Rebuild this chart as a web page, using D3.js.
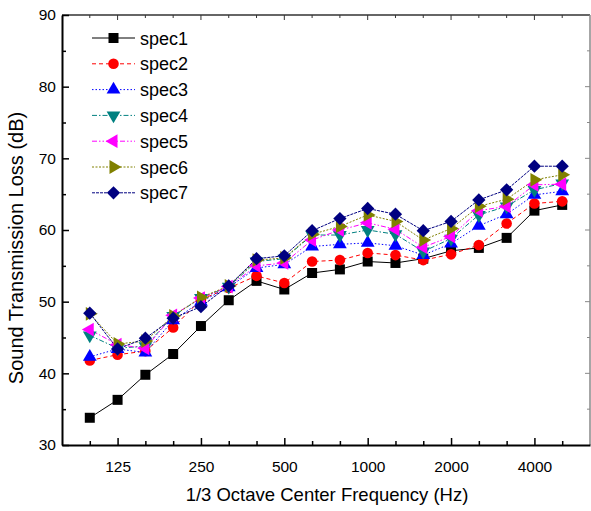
<!DOCTYPE html>
<head>
  <meta charset="utf-8">
  <script src="https://d3js.org/d3.v7.min.js"></script>
  <style>
    body { margin: 0; background: #fff; }
    svg { display: block; font-family: "Liberation Sans", Arial, sans-serif; }
  </style>
</head>
<body>
  <svg width="591" height="511"></svg>
  <script>
    // data
    var freqs = [100, 125, 160, 200, 250, 315, 400, 500, 630, 800, 1000, 1250, 1600, 2000, 2500, 3150, 4000, 5000];
    var tickLabels = ["125", "250", "500", "1000", "2000", "4000"];
    var yTicks = [30, 40, 50, 60, 70, 80, 90];
    var names = ["spec1", "spec2", "spec3", "spec4", "spec5", "spec6", "spec7"];
    var spec1 = [33.8, 36.3, 39.8, 42.7, 46.6, 50.2, 52.9, 51.7, 54.0, 54.5, 55.6, 55.4, 56.0, 57.1, 57.5, 58.9, 62.7, 63.5];
    var spec2 = [41.8, 42.6, 43.1, 46.4, 50.3, 51.9, 53.6, 52.6, 55.6, 55.8, 56.8, 56.5, 55.8, 56.6, 57.9, 60.9, 63.7, 64.0];
    var spec3 = [42.3, 43.4, 42.9, 47.4, 50.0, 52.0, 54.7, 55.2, 57.7, 58.0, 58.2, 57.8, 56.5, 58.1, 60.6, 62.2, 64.9, 65.4];
    var spec4 = [45.3, 43.5, 43.8, 48.0, 50.5, 52.1, 55.6, 56.0, 59.3, 59.3, 60.0, 59.4, 57.0, 58.8, 62.1, 63.3, 65.6, 66.5];
    var spec5 = [46.1, 44.0, 43.5, 48.1, 50.5, 52.1, 55.0, 55.4, 58.6, 60.0, 61.0, 60.1, 57.6, 59.1, 62.7, 63.3, 66.3, 66.4];
    var spec6 = [48.3, 44.1, 44.5, 48.0, 50.6, 52.2, 55.8, 56.1, 59.4, 60.5, 62.1, 61.2, 58.6, 60.2, 63.3, 64.3, 67.0, 67.7];
    var spec7 = [48.4, 43.4, 44.9, 47.7, 49.3, 52.2, 56.0, 56.4, 59.9, 61.6, 63.0, 62.2, 59.9, 61.2, 64.2, 65.6, 68.9, 68.9];
    var series = [spec1, spec2, spec3, spec4, spec5, spec6, spec7];

    // styles
    var colors = ["#000000", "#ff0000", "#0000ff", "#008080", "#ff00ff", "#808000", "#000080"];
    var dashes = [null, "4,3", "1.5,2", "5,2,1.5,2", "5,2,1.5,2,1.5,2", "2,1.5", "3,1"];
    var shapes = [
      { type: d3.symbolSquare, size: 100, rot: 0 },
      { type: d3.symbolCircle, size: 88, rot: 0 },
      { type: d3.symbolTriangle, size: 82, rot: 0 },
      { type: d3.symbolTriangle, size: 82, rot: 180 },
      { type: d3.symbolTriangle, size: 82, rot: -90 },
      { type: d3.symbolTriangle, size: 82, rot: 90 },
      { type: d3.symbolSquare, size: 88, rot: 45 }
    ];

    var margin = { top: 15, right: 1, bottom: 66, left: 62 };
    var width = 591, height = 511;
    var font = '"Liberation Sans", Arial, sans-serif';

    var xScale = d3.scaleLinear()
      .domain([-1, freqs.length])
      .range([margin.left, width - margin.right]);
    var yScale = d3.scaleLinear()
      .domain([30, 90])
      .range([height - margin.bottom, margin.top]);

    var svg = d3.select('svg');

    // frame: top and right
    svg.append('line')
      .attr('x1', margin.left).attr('x2', width - margin.right)
      .attr('y1', margin.top).attr('y2', margin.top)
      .attr('stroke', '#333').attr('stroke-width', 1.5);
    svg.append('line')
      .attr('x1', width - margin.right).attr('x2', width - margin.right)
      .attr('y1', margin.top).attr('y2', height - margin.bottom)
      .attr('stroke', '#888').attr('stroke-width', 1.5);

    var idx = d3.range(freqs.length);
    var isMajor = function(i) { return (i - 1) % 3 === 0; };

    // top ticks
    svg.append('g').selectAll('line').data(idx).enter().append('line')
      .attr('x1', function(i) { return xScale(i); })
      .attr('x2', function(i) { return xScale(i); })
      .attr('y1', margin.top)
      .attr('y2', function(i) { return margin.top + (isMajor(i) ? 5 : 3); })
      .attr('stroke', '#333').attr('stroke-width', 1);

    // bottom axis
    var xAxis = d3.axisBottom(xScale)
      .tickValues(idx)
      .tickSizeInner(0).tickSizeOuter(0)
      .tickFormat(function(i) { return isMajor(i) ? tickLabels[(i - 1) / 3] : ""; });
    var gx = svg.append('g')
      .attr('transform', 'translate(0,' + (height - margin.bottom) + ')')
      .call(xAxis);
    gx.select('.domain').attr('stroke', '#000').attr('stroke-width', 2);
    gx.selectAll('.tick line')
      .attr('y2', function(i) { return isMajor(i) ? -7 : -4; })
      .attr('stroke', '#000').attr('stroke-width', 1.5);
    gx.selectAll('.tick text')
      .attr('y', 16).attr('font-size', 15.5).attr('fill', '#000')
      .attr('font-family', font);

    // left axis
    var yAxis = d3.axisLeft(yScale)
      .tickValues(d3.range(30, 91, 5))
      .tickSizeInner(0).tickSizeOuter(0)
      .tickFormat(function(d) { return yTicks.indexOf(d) >= 0 ? d : ""; });
    var gy = svg.append('g')
      .attr('transform', 'translate(' + margin.left + ',0)')
      .call(yAxis);
    gy.select('.domain').attr('stroke', '#000').attr('stroke-width', 2);
    gy.selectAll('.tick line')
      .attr('x2', function(d) { return d % 10 === 0 ? 7 : 4; })
      .attr('stroke', '#000').attr('stroke-width', 1.5);
    gy.selectAll('.tick text')
      .attr('x', -6).attr('font-size', 15.5).attr('fill', '#000')
      .attr('font-family', font);

    // right ticks
    svg.append('g').selectAll('line').data(d3.range(35, 90, 5)).enter().append('line')
      .attr('x1', width - margin.right)
      .attr('x2', function(d) { return width - margin.right - (d % 10 === 0 ? 5 : 3); })
      .attr('y1', function(d) { return yScale(d); })
      .attr('y2', function(d) { return yScale(d); })
      .attr('stroke', '#888').attr('stroke-width', 1);

    // axis titles
    svg.append('text')
      .attr('x', 327)
      .attr('y', 501)
      .attr('text-anchor', 'middle')
      .attr('font-size', 18.5)
      .text('1/3 Octave Center Frequency (Hz)');
    svg.append('text')
      .attr('transform', 'translate(23,248) rotate(-90)')
      .attr('text-anchor', 'middle')
      .attr('font-size', 20)
      .text('Sound Transmission Loss (dB)');

    // lines and markers
    var line = d3.line()
      .x(function(d, i) { return xScale(i); })
      .y(function(d) { return yScale(d); });

    series.forEach(function(s, k) {
      svg.append('path')
        .datum(s)
        .attr('d', line)
        .attr('fill', 'none')
        .attr('stroke', colors[k])
        .attr('stroke-width', 1)
        .attr('stroke-dasharray', dashes[k]);
    });
    series.forEach(function(s, k) {
      var sym = d3.symbol().type(shapes[k].type).size(shapes[k].size);
      svg.append('g').selectAll('path').data(s).enter().append('path')
        .attr('d', sym)
        .attr('transform', function(d, i) {
          return 'translate(' + xScale(i) + ',' + yScale(d) + ') rotate(' + shapes[k].rot + ')';
        })
        .attr('fill', colors[k]);
    });

    // legend
    var legend = svg.append('g');
    names.forEach(function(n, k) {
      var ly = 38 + k * 25.8;
      legend.append('line')
        .attr('x1', 92).attr('x2', 135).attr('y1', ly).attr('y2', ly)
        .attr('stroke', colors[k]).attr('stroke-width', 1)
        .attr('stroke-dasharray', dashes[k]);
      legend.append('path')
        .attr('d', d3.symbol().type(shapes[k].type).size(shapes[k].size))
        .attr('transform', 'translate(113.5,' + ly + ') rotate(' + shapes[k].rot + ')')
        .attr('fill', colors[k]);
      legend.append('text')
        .attr('x', 140).attr('y', ly + 6.5)
        .attr('font-size', 18)
        .text(n);
    });
  </script>
</body>
